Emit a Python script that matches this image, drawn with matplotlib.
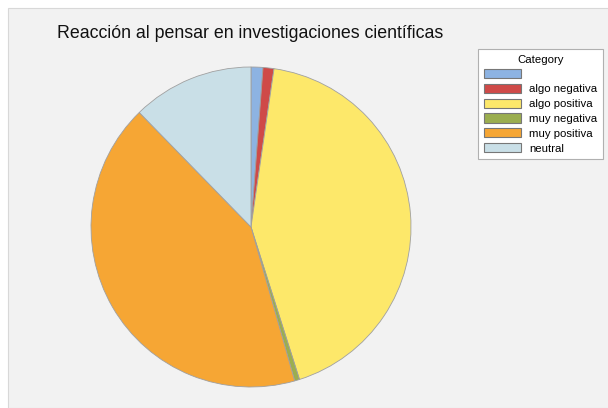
import matplotlib
matplotlib.use("Agg")
import matplotlib.pyplot as plt
from matplotlib.patches import Rectangle, Patch

# Valeurs (en %)
categories = ["", "algo negativa", "algo positiva", "muy negativa", "muy positiva", "neutral"]
shares = [1.2, 1.1, 42.8, 0.5, 42.1, 12.3]
colors = ["#8db3e2", "#cf4a48", "#fde86a", "#9bae4f", "#f6a634", "#c9dfe7"]

title = "Reacción al pensar en investigaciones científicas"
legend_title = "Category"

plt.rcParams["font.family"] = ["Liberation Sans", "DejaVu Sans"]

W, H = 608, 408
fig = plt.figure(figsize=(W / 100, H / 100), dpi=100)
fig.patch.set_facecolor("white")

# panneau gris clair (bande blanche en haut et à gauche)
fig.add_artist(Rectangle((8 / W, 0), 1, 1 - 8 / H, transform=fig.transFigure,
                         facecolor="#f2f2f2", edgecolor="#d8d8d8", lw=0.8, zorder=0))

# axes placés pour que le camembert ait centre (251, 227) et rayon 160 px
cx, cy, r = 251, 227, 160
ax = fig.add_axes([(cx - r) / W, (H - cy - r) / H, 2 * r / W, 2 * r / H])
ax.pie(shares, colors=colors, startangle=90, counterclock=False,
       wedgeprops=dict(edgecolor="#a0a0a0", linewidth=0.6))
ax.set_xlim(-1, 1)
ax.set_ylim(-1, 1)
ax.set_aspect("auto")
ax.axis("off")

fig.text(57 / W, 1 - 33 / H, title, fontsize=12.8, ha="left", va="center", color="#111111")

handles = [Patch(facecolor=c, edgecolor="#777777", linewidth=0.8) for c in colors]
leg = fig.legend(handles, categories, title=legend_title, loc="upper left",
                 bbox_to_anchor=(478 / W, 1 - 49 / H), borderaxespad=0,
                 fontsize=8.2, title_fontsize=8.2, handlelength=3.3, handleheight=0.85,
                 handletextpad=0.7, labelspacing=0.38, fancybox=False,
                 edgecolor="#b0b0b0", framealpha=1, borderpad=0.5)
leg.get_frame().set_linewidth(0.8)

fig.savefig("out.png", dpi=100)
